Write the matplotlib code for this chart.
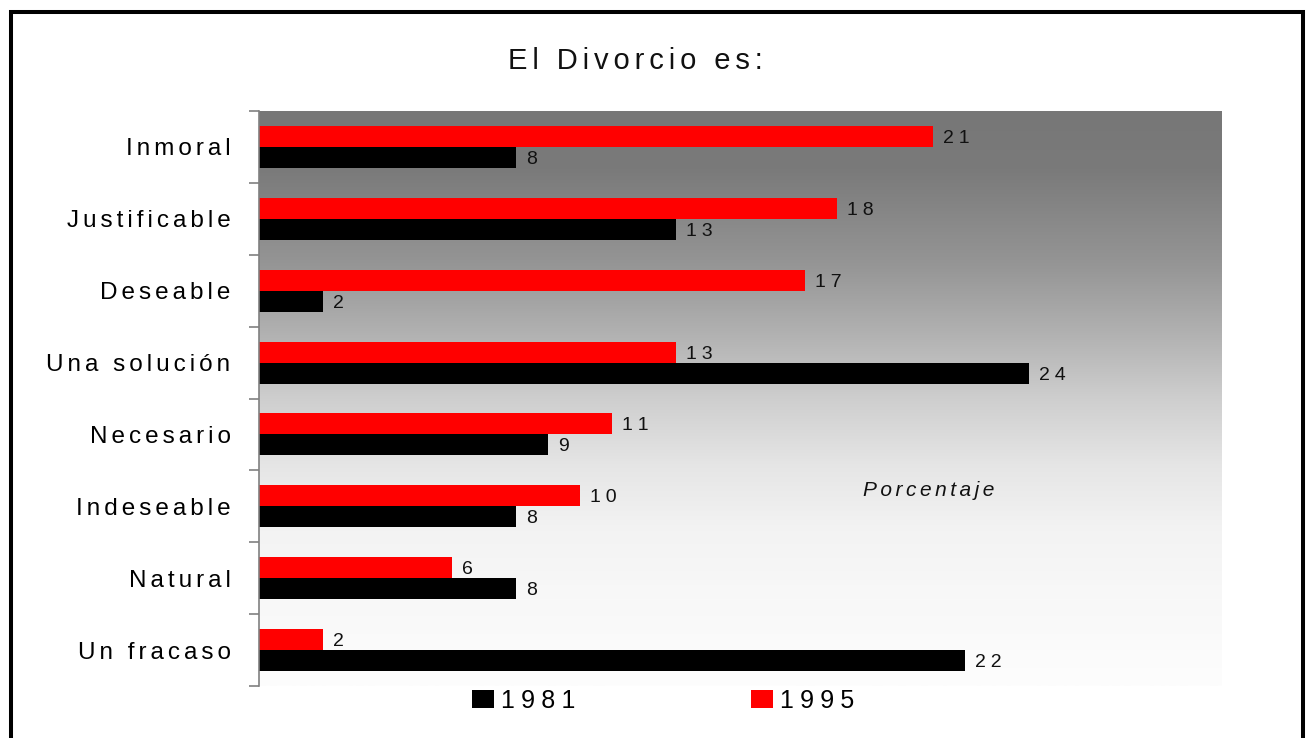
import numpy as np
import matplotlib
matplotlib.use("Agg")
import matplotlib.pyplot as plt
from matplotlib.patches import Patch, Rectangle
from matplotlib.colors import LinearSegmentedColormap

plt.rcParams['font.family'] = ['Liberation Sans', 'DejaVu Sans']

# data
categories = ['Inmoral', 'Justificable', 'Deseable', 'Una solución',
              'Necesario', 'Indeseable', 'Natural', 'Un fracaso']
v1981 = [8, 13, 2, 24, 9, 8, 8, 22]
v1995 = [21, 18, 17, 13, 11, 10, 6, 2]
series_names = ['1981', '1995']
title = 'El Divorcio es:'
xlabel = 'Porcentaje'


def track(s, sep='\u2006'):
    # fake letter spacing with narrow spaces
    return sep.join(s)


W, H = 1306, 738
fig = plt.figure(figsize=(W / 100, H / 100), dpi=100)
ax = fig.add_axes([259 / W, 1 - 686 / H, (1222 - 259) / W, (686 - 111) / H])

y = np.arange(len(categories))

# grey-to-white background gradient (eased, dark at top)
cmap = LinearSegmentedColormap.from_list('bg', [
    (0.0, '#777777'), (0.1, '#7a7a7a'), (0.27, '#969696'), (0.39, '#b2b2b2'),
    (0.5, '#cecece'), (0.62, '#e6e6e6'), (0.73, '#f3f3f3'), (0.85, '#f8f8f8'),
    (1.0, '#fdfdfd')])
ax.imshow(np.linspace(0, 1, 256).reshape(-1, 1), cmap=cmap, aspect='auto',
          extent=(0, 30, len(categories) - 0.5, -0.5), origin='upper', zorder=0)

h = 0.292
off = 0.146
ax.barh(y - off, v1995, height=h, color='#ff0000', zorder=2)
ax.barh(y + off, v1981, height=h, color='black', zorder=2)

for vals, dy in ((v1995, -off), (v1981, off)):
    for yy, v in zip(y, vals):
        ax.annotate(track(str(v), '\u2005'), (v, yy + dy), xytext=(7.2, 0),
                    textcoords='offset points', ha='left', va='center_baseline',
                    fontsize=14, color='#111111', zorder=3)

ax.set_xlim(0, 30)
ax.set_ylim(len(categories) - 0.5, -0.5)

ax.set_yticks(y)
ax.set_yticklabels([track(c) for c in categories], fontsize=17.5)
ax.set_yticks(np.arange(-0.5, len(categories)), minor=True)
ax.tick_params(axis='y', which='major', length=0, pad=20.5)
ax.tick_params(axis='y', which='minor', length=7.2, width=1.2, color='#808080')
ax.set_xticks([])
for s in ('top', 'right', 'bottom'):
    ax.spines[s].set_visible(False)
ax.spines['left'].set_color('#808080')
ax.spines['left'].set_linewidth(1.2)

ax.text(0.695, 0.343, track(xlabel), transform=ax.transAxes, ha='center',
        va='center_baseline', fontsize=15, style='italic', color='#111111')

fig.text(635 / W, 1 - 69 / H, track(title), ha='center', va='baseline',
         fontsize=21, color='#111111')

handles = [Patch(facecolor='black', linewidth=0), Patch(facecolor='#ff0000', linewidth=0)]
fig.legend(handles, [track(s, '\u2005') for s in series_names], loc='center',
           bbox_to_anchor=(663 / W, 1 - 701 / H), ncol=2, frameon=False,
           fontsize=18, handlelength=0.88, handleheight=0.72,
           handletextpad=0.28, columnspacing=7)

# outer frame (bottom edge runs off the image)
fig.patches.append(Rectangle((11 / W, -0.1), (1303 - 11) / W, 1 - 12 / H + 0.1,
                             transform=fig.transFigure, fill=False,
                             edgecolor='black', linewidth=2.9))

fig.savefig('out.png', dpi=100)
